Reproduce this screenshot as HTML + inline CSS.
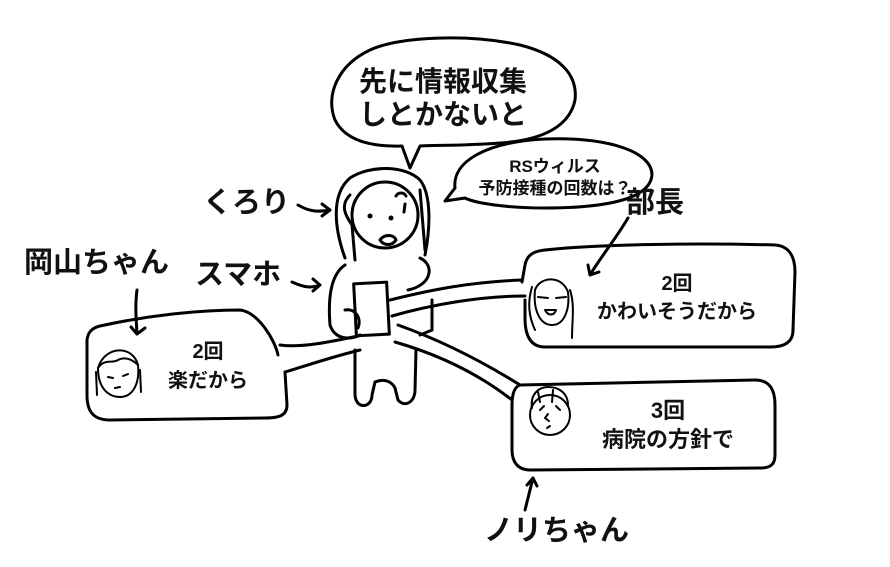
<!DOCTYPE html>
<html><head><meta charset="utf-8"><style>
html,body{margin:0;padding:0;background:#fff;}
svg{display:block}
text{font-family:"Liberation Sans","Noto Sans CJK JP",sans-serif;font-weight:bold;fill:#111}
</style></head><body>
<svg width="890" height="567" viewBox="0 0 890 567" xmlns="http://www.w3.org/2000/svg">
<g fill="none" stroke="#000" stroke-width="3" stroke-linecap="round" stroke-linejoin="round">
<path d="M402,146 C370,147 345,140 335,120 C325,95 338,65 370,50 C400,36 470,34 520,45 C560,55 578,75 575,100 C570,125 545,140 500,143 C460,146 435,145 420,146 L410,168 Z"/>
<path d="M455,188 C452,162 485,142 545,139 C610,137 652,152 652,175 C650,198 610,208 545,208 C505,208 475,203 465,198 L445,201 Z"/>
<path d="M545,250 C600,244 700,243 775,245 C790,246 795,258 795,272 L793,330 C793,342 785,347 770,347 L545,347 C530,347 525,335 525,318 L525,300 M522,282 L525,265 C527,254 535,251 545,250"/>
<path d="M100,326 C150,315 200,310 240,310 C258,312 275,340 278,355 M285,372 L287,405 C287,415 280,418 265,418 L110,420 C92,420 87,410 87,395 L87,340 C88,332 92,328 100,326"/>
<path d="M520,385 L755,380 C770,380 775,390 775,405 L775,455 C775,465 770,468 760,468 L530,470 C518,470 512,462 512,450 L512,405 C512,395 514,387 520,385"/>
<path d="M390,300 C430,290 470,282 522,280"/>
<path d="M392,316 C430,305 480,296 525,296"/>
<path d="M358,336 C330,342 300,348 280,345"/>
<path d="M360,350 C335,356 305,366 285,372"/>
<path d="M398,325 C440,340 480,360 520,385"/>
<path d="M395,342 C440,355 480,375 512,400"/>
<path d="M345,258 C335,230 330,195 350,178 C370,165 405,165 420,180 C432,195 430,230 425,255"/>
<path d="M350,195 C340,205 345,215 352,225 L355,260"/>
<path d="M420,190 L425,250"/>
<circle cx="385" cy="215" r="33"/>
<path d="M345,265 C330,275 328,300 330,325 C335,340 350,340 360,335"/>
<path d="M420,258 C435,265 432,285 408,290"/>
<path d="M345,310 C355,308 362,318 358,328"/>
<path d="M355,350 L355,395 C356,410 372,408 372,395 L375,382 C385,378 392,382 395,388 L398,400 C405,408 415,402 415,390 L416,350"/>
<path d="M432,300 L432,330"/>
<path d="M420,335 L432,330"/>
<rect x="355" y="283" width="33" height="52" transform="rotate(-3 371 309)"/>
<path d="M396,196 C398,192 404,192 406,196"/>
<path d="M405,204 L404,212"/>
<path d="M380,240 C384,234 394,234 396,240 C392,246 384,246 380,240Z"/>
<path d="M298,205 C310,212 318,212 330,210 M322,204 L330,210 L322,216"/>
<path d="M292,282 C305,288 312,288 320,285 M313,279 L320,285 L313,291"/>
<path d="M628,218 C615,240 600,258 590,275 M588,265 L590,275 L599,272"/>
<path d="M137,290 C135,305 136,318 137,333 M131,327 L137,334 L145,328"/>
<path d="M525,510 C528,498 530,490 533,478 M527,485 L533,478 L537,486"/>
</g>
<g fill="none" stroke="#000" stroke-width="2" stroke-linecap="round" stroke-linejoin="round">
<path d="M535,290 C533,310 540,325 552,325 C564,325 570,310 568,292"/>
<path d="M535,290 C540,276 562,275 568,292 M532,287 C528,300 528,315 535,330 M570,290 C575,305 572,320 572,338"/>
<path d="M538,297 L548,298 M556,298 L566,297 M545,310 C548,316 554,316 556,310 Z"/>
<path d="M98,368 C98,390 110,397 120,397 C132,397 140,385 138,365 C133,345 105,345 98,368 Z"/>
<path d="M98,368 C105,358 112,364 118,360 C125,356 133,360 138,365 M96,372 L97,395 M140,370 L141,392"/>
<path d="M108,377 L113,378 M123,376 L128,374 M115,388 L120,387"/>
<circle cx="550" cy="415" r="20"/>
<path d="M532,408 C530,395 538,387 548,387 C560,387 568,394 568,405 M538,392 L540,402 M553,390 L552,402"/>
<path d="M540,410 L544,406 M556,406 L560,410 M548,414 L545,418 L549,421 M547,428 L550,426"/>
</g>
<g fill="#000">
<circle cx="370" cy="216" r="2.5"/><circle cx="391" cy="218" r="2.5"/>
</g>
<text x="443" y="91" font-size="28" text-anchor="middle">先に情報収集</text>
<text x="443" y="124" font-size="28" text-anchor="middle">しとかないと</text>
<text x="555" y="172" font-size="17" text-anchor="middle">RSウィルス</text>
<text x="555" y="194" font-size="17" text-anchor="middle">予防接種の回数は？</text>
<text x="203" y="212" font-size="29">くろり</text>
<text x="24" y="272" font-size="29">岡山ちゃん</text>
<text x="195" y="284" font-size="29">スマホ</text>
<text x="626" y="212" font-size="29">部長</text>
<text x="484" y="540" font-size="29">ノリちゃん</text>
<text x="677" y="290" font-size="20" text-anchor="middle">2回</text>
<text x="677" y="318" font-size="20" text-anchor="middle">かわいそうだから</text>
<text x="208" y="358" font-size="20" text-anchor="middle">2回</text>
<text x="208" y="387" font-size="20" text-anchor="middle">楽だから</text>
<text x="668" y="418" font-size="22" text-anchor="middle">3回</text>
<text x="668" y="447" font-size="22" text-anchor="middle">病院の方針で</text>
</svg>
</body></html>
